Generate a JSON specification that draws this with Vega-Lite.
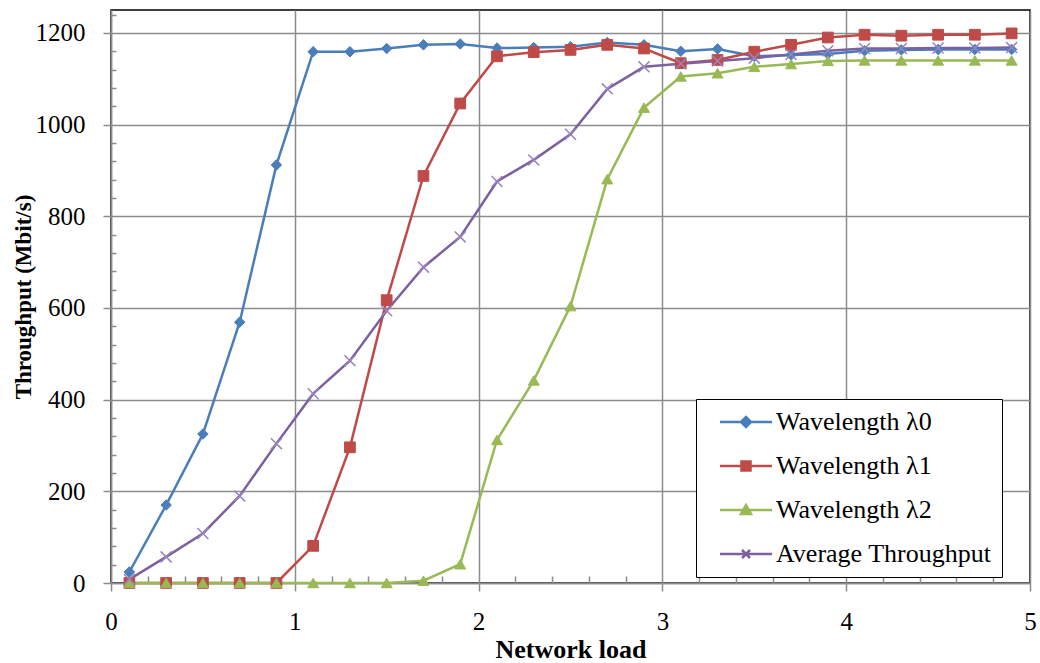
{
  "$schema": "https://vega.github.io/schema/vega-lite/v6.json",
  "width": 919,
  "height": 573,
  "autosize": {"type": "none"},
  "padding": {"left": 111, "top": 10, "right": 10, "bottom": 80},
  "background": "white",
  "config": {"view": {"stroke": "black", "strokeWidth": 1.5}},
  "data": {"values": [
    {"load":0.1,"series":"Wavelength λ0","value":24},
    {"load":0.3,"series":"Wavelength λ0","value":170},
    {"load":0.5,"series":"Wavelength λ0","value":325},
    {"load":0.7,"series":"Wavelength λ0","value":569},
    {"load":0.9,"series":"Wavelength λ0","value":912},
    {"load":1.1,"series":"Wavelength λ0","value":1159},
    {"load":1.3,"series":"Wavelength λ0","value":1159},
    {"load":1.5,"series":"Wavelength λ0","value":1166},
    {"load":1.7,"series":"Wavelength λ0","value":1174},
    {"load":1.9,"series":"Wavelength λ0","value":1176},
    {"load":2.1,"series":"Wavelength λ0","value":1167},
    {"load":2.3,"series":"Wavelength λ0","value":1168},
    {"load":2.5,"series":"Wavelength λ0","value":1170},
    {"load":2.7,"series":"Wavelength λ0","value":1179},
    {"load":2.9,"series":"Wavelength λ0","value":1174},
    {"load":3.1,"series":"Wavelength λ0","value":1160},
    {"load":3.3,"series":"Wavelength λ0","value":1165},
    {"load":3.5,"series":"Wavelength λ0","value":1149},
    {"load":3.7,"series":"Wavelength λ0","value":1152},
    {"load":3.9,"series":"Wavelength λ0","value":1154},
    {"load":4.1,"series":"Wavelength λ0","value":1161},
    {"load":4.3,"series":"Wavelength λ0","value":1163},
    {"load":4.5,"series":"Wavelength λ0","value":1164},
    {"load":4.7,"series":"Wavelength λ0","value":1164},
    {"load":4.9,"series":"Wavelength λ0","value":1164},
    {"load":0.1,"series":"Wavelength λ1","value":0},
    {"load":0.3,"series":"Wavelength λ1","value":0},
    {"load":0.5,"series":"Wavelength λ1","value":0},
    {"load":0.7,"series":"Wavelength λ1","value":0},
    {"load":0.9,"series":"Wavelength λ1","value":0},
    {"load":1.1,"series":"Wavelength λ1","value":81},
    {"load":1.3,"series":"Wavelength λ1","value":296},
    {"load":1.5,"series":"Wavelength λ1","value":617},
    {"load":1.7,"series":"Wavelength λ1","value":888},
    {"load":1.9,"series":"Wavelength λ1","value":1046},
    {"load":2.1,"series":"Wavelength λ1","value":1149},
    {"load":2.3,"series":"Wavelength λ1","value":1158},
    {"load":2.5,"series":"Wavelength λ1","value":1163},
    {"load":2.7,"series":"Wavelength λ1","value":1174},
    {"load":2.9,"series":"Wavelength λ1","value":1166},
    {"load":3.1,"series":"Wavelength λ1","value":1134},
    {"load":3.3,"series":"Wavelength λ1","value":1141},
    {"load":3.5,"series":"Wavelength λ1","value":1159},
    {"load":3.7,"series":"Wavelength λ1","value":1174},
    {"load":3.9,"series":"Wavelength λ1","value":1190},
    {"load":4.1,"series":"Wavelength λ1","value":1196},
    {"load":4.3,"series":"Wavelength λ1","value":1194},
    {"load":4.5,"series":"Wavelength λ1","value":1196},
    {"load":4.7,"series":"Wavelength λ1","value":1196},
    {"load":4.9,"series":"Wavelength λ1","value":1199},
    {"load":0.1,"series":"Wavelength λ2","value":0},
    {"load":0.3,"series":"Wavelength λ2","value":0},
    {"load":0.5,"series":"Wavelength λ2","value":0},
    {"load":0.7,"series":"Wavelength λ2","value":0},
    {"load":0.9,"series":"Wavelength λ2","value":0},
    {"load":1.1,"series":"Wavelength λ2","value":0},
    {"load":1.3,"series":"Wavelength λ2","value":0},
    {"load":1.5,"series":"Wavelength λ2","value":0},
    {"load":1.7,"series":"Wavelength λ2","value":5},
    {"load":1.9,"series":"Wavelength λ2","value":41},
    {"load":2.1,"series":"Wavelength λ2","value":312},
    {"load":2.3,"series":"Wavelength λ2","value":442},
    {"load":2.5,"series":"Wavelength λ2","value":604},
    {"load":2.7,"series":"Wavelength λ2","value":881},
    {"load":2.9,"series":"Wavelength λ2","value":1037},
    {"load":3.1,"series":"Wavelength λ2","value":1105},
    {"load":3.3,"series":"Wavelength λ2","value":1112},
    {"load":3.5,"series":"Wavelength λ2","value":1126},
    {"load":3.7,"series":"Wavelength λ2","value":1132},
    {"load":3.9,"series":"Wavelength λ2","value":1139},
    {"load":4.1,"series":"Wavelength λ2","value":1140},
    {"load":4.3,"series":"Wavelength λ2","value":1140},
    {"load":4.5,"series":"Wavelength λ2","value":1140},
    {"load":4.7,"series":"Wavelength λ2","value":1140},
    {"load":4.9,"series":"Wavelength λ2","value":1140},
    {"load":0.1,"series":"Average Throughput","value":8},
    {"load":0.3,"series":"Average Throughput","value":57},
    {"load":0.5,"series":"Average Throughput","value":108},
    {"load":0.7,"series":"Average Throughput","value":190},
    {"load":0.9,"series":"Average Throughput","value":304},
    {"load":1.1,"series":"Average Throughput","value":413},
    {"load":1.3,"series":"Average Throughput","value":485},
    {"load":1.5,"series":"Average Throughput","value":594},
    {"load":1.7,"series":"Average Throughput","value":689},
    {"load":1.9,"series":"Average Throughput","value":755},
    {"load":2.1,"series":"Average Throughput","value":876},
    {"load":2.3,"series":"Average Throughput","value":923},
    {"load":2.5,"series":"Average Throughput","value":979},
    {"load":2.7,"series":"Average Throughput","value":1078},
    {"load":2.9,"series":"Average Throughput","value":1126},
    {"load":3.1,"series":"Average Throughput","value":1133},
    {"load":3.3,"series":"Average Throughput","value":1139},
    {"load":3.5,"series":"Average Throughput","value":1145},
    {"load":3.7,"series":"Average Throughput","value":1153},
    {"load":3.9,"series":"Average Throughput","value":1161},
    {"load":4.1,"series":"Average Throughput","value":1166},
    {"load":4.3,"series":"Average Throughput","value":1166},
    {"load":4.5,"series":"Average Throughput","value":1167},
    {"load":4.7,"series":"Average Throughput","value":1167},
    {"load":4.9,"series":"Average Throughput","value":1168}
  ]},
  "layer": [
    {
      "mark": {"type": "line", "strokeWidth": 2.5},
      "encoding": {
        "x": {"field": "load", "type": "quantitative", "scale": {"domain": [0,5], "nice": false},
          "axis": {"values": [0,1,2,3,4,5], "format": "d", "grid": true, "gridColor": "#8c8c8c", "gridWidth": 1.5,
            "tickSize": 8, "tickColor": "#8c8c8c", "tickWidth": 1.5, "domainColor": "#8c8c8c", "domainWidth": 1.5,
            "labelFont": "Liberation Serif", "labelFontSize": 25, "labelColor": "black", "labelPadding": 18,
            "labelFlush": false, "labelOverlap": false,
            "title": "Network load", "titleFont": "Liberation Serif", "titleFontSize": 26, "titleFontWeight": "bold", "titleColor": "black", "titlePadding": 2}},
        "y": {"field": "value", "type": "quantitative", "scale": {"domain": [0,1250], "nice": false},
          "axis": {"values": [0,200,400,600,800,1000,1200], "format": "d", "grid": true, "gridColor": "#8c8c8c", "gridWidth": 1.5,
            "tickSize": 8, "tickColor": "#8c8c8c", "tickWidth": 1.5, "domainColor": "#8c8c8c", "domainWidth": 1.5,
            "labelFont": "Liberation Serif", "labelFontSize": 25, "labelColor": "black", "labelPadding": 18,
            "labelFlush": false, "labelOverlap": false,
            "title": "Throughput (Mbit/s)", "titleFont": "Liberation Serif", "titleFontSize": 23, "titleFontWeight": "bold", "titleColor": "black", "titlePadding": 0}},
        "color": {
          "field": "series", "type": "nominal",
          "scale": {"domain": ["Wavelength λ0","Wavelength λ1","Wavelength λ2","Average Throughput"], "range": ["#4A7EBB","#BE4B48","#98B954","#7D60A0"]},
          "legend": {
            "orient": "none", "legendX": 585, "legendY": 389, "title": null,
            "padding": 10, "strokeColor": "black", "fillColor": "white",
            "labelFont": "Liberation Serif", "labelFontSize": 26, "labelColor": "black", "labelLimit": 400,
            "symbolSize": 100, "symbolOffset": 27, "labelOffset": 17, "rowPadding": 18,
            "symbolStrokeWidth": 2.5,
            "symbolType": {"expr": "datum.value == 'Wavelength λ0' ? 'M-5.2,0L5.2,0M-1,0L0,-1L1,0L0,1Z' : datum.value == 'Wavelength λ1' ? 'M-5.2,0L5.2,0M-0.9,-0.9L0.9,-0.9L0.9,0.9L-0.9,0.9Z' : datum.value == 'Wavelength λ2' ? 'M-5.2,0L5.2,0M0,-1L1,0.8L-1,0.8Z' : 'M-5.2,0L5.2,0M-0.8,-0.8L0.8,0.8M-0.8,0.8L0.8,-0.8'"},
            "symbolFillColor": {"expr": "scale('color', datum.value)"}
          }
        }
      }
    },
    {
      "transform": [{"filter": "datum.series == 'Wavelength λ0'"}],
      "mark": {"type": "point", "shape": "diamond", "filled": true, "size": 110, "stroke": "#4A7EBB", "strokeWidth": 1, "opacity": 1},
      "encoding": {
        "x": {"field": "load", "type": "quantitative", "scale": {"domain": [0,5], "nice": false},
          "axis": {"orient": "bottom", "values": [0.2,0.4,0.6,0.8,1.2,1.4,1.6,1.8,2.2,2.4,2.6,2.8,3.2,3.4,3.6,3.8,4.2,4.4,4.6,4.8],
            "grid": false, "labels": false, "domain": false, "tickSize": -7, "tickColor": "#8c8c8c", "tickWidth": 1.5, "title": null}},
        "y": {"field": "value", "type": "quantitative", "scale": {"domain": [0,1250], "nice": false},
          "axis": {"orient": "left", "values": [40,80,120,160,240,280,320,360,440,480,520,560,640,680,720,760,840,880,920,960,1040,1080,1120,1160,1240],
            "grid": false, "labels": false, "domain": false, "tickSize": -5, "tickColor": "#8c8c8c", "tickWidth": 1.5, "title": null}},
        "color": {"field": "series", "type": "nominal", "legend": null}
      }
    },
    {
      "transform": [{"filter": "datum.series == 'Wavelength λ1'"}],
      "mark": {"type": "point", "shape": "square", "filled": true, "size": 115, "stroke": "#BE4B48", "strokeWidth": 1, "opacity": 1},
      "encoding": {
        "x": {"field": "load", "type": "quantitative", "axis": null},
        "y": {"field": "value", "type": "quantitative", "axis": null},
        "color": {"field": "series", "type": "nominal", "legend": null}
      }
    },
    {
      "transform": [{"filter": "datum.series == 'Wavelength λ2'"}],
      "mark": {"type": "point", "shape": "triangle-up", "filled": true, "size": 120, "stroke": "#98B954", "strokeWidth": 1, "opacity": 1},
      "encoding": {
        "x": {"field": "load", "type": "quantitative", "axis": null},
        "y": {"field": "value", "type": "quantitative", "axis": null},
        "color": {"field": "series", "type": "nominal", "legend": null}
      }
    },
    {
      "transform": [{"filter": "datum.series == 'Average Throughput'"}],
      "mark": {"type": "point", "shape": "M-1,-1L1,1M-1,1L1,-1", "filled": false, "size": 120, "strokeWidth": 1.5, "opacity": 1, "stroke": "#9A84BE"},
      "encoding": {
        "x": {"field": "load", "type": "quantitative", "axis": null},
        "y": {"field": "value", "type": "quantitative", "axis": null}
      }
    }
  ],
  "resolve": {"axis": {"x": "independent", "y": "independent"}}
}
